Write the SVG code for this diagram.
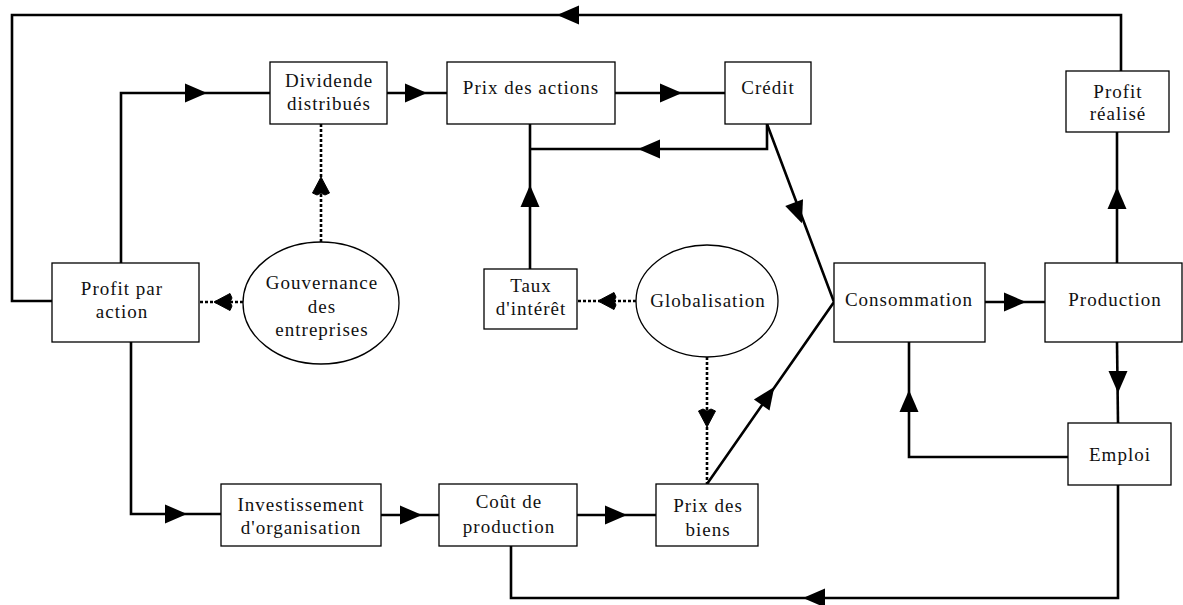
<svg xmlns="http://www.w3.org/2000/svg" xmlns:xlink="http://www.w3.org/1999/xlink" width="1183" height="605" viewBox="0 0 1183 605">
<style>
.box{fill:#fff;stroke:#000;stroke-width:1.3}
.t{font-family:"Liberation Serif","Times New Roman",serif;font-size:19px;letter-spacing:1px;text-anchor:middle;fill:#111}
.ln{fill:none;stroke:#000;stroke-width:2.6;stroke-linejoin:miter}
.dt{fill:none;stroke:#000;stroke-width:2.6;stroke-dasharray:3 2}
</style>
<defs>
<path id="ah" d="M11,0 L-11,-9.5 L-11,9.5 Z" fill="#000"/>
<path id="dh" d="M9,0 L-7,-8.5 L-9,-4 L-7,0 L-9,4 L-7,8.5 Z" fill="#000" stroke="#000" stroke-width="1"/>
</defs>
<rect width="1183" height="605" fill="#fff"/>
<g id="connectors">
<polyline class="ln" points="1121,71 1121,15 12,15 12,301 52,301"/>
<use xlink:href="#ah" transform="translate(568,15) rotate(180)"/>
<polyline class="ln" points="121,263 121,93 270,93"/>
<use xlink:href="#ah" transform="translate(196,93)"/>
<line class="ln" x1="387" y1="93" x2="447" y2="93"/>
<use xlink:href="#ah" transform="translate(416,93)"/>
<line class="ln" x1="615" y1="93" x2="725" y2="93"/>
<use xlink:href="#ah" transform="translate(671,93)"/>
<polyline class="ln" points="767,124 767,149 530,149"/>
<use xlink:href="#ah" transform="translate(649,149) rotate(180)"/>
<line class="ln" x1="530" y1="124" x2="530" y2="269"/>
<use xlink:href="#ah" transform="translate(530,196) rotate(-90)"/>
<polyline class="ln" points="767,124 834,302 707,484"/>
<use xlink:href="#ah" transform="translate(798,213) rotate(69.4)"/>
<use xlink:href="#ah" transform="translate(768,396) rotate(-55.1)"/>
<line class="ln" x1="1117" y1="263" x2="1117" y2="132"/>
<use xlink:href="#ah" transform="translate(1117,198) rotate(-90)"/>
<line class="ln" x1="985" y1="302" x2="1045" y2="302"/>
<use xlink:href="#ah" transform="translate(1015,302)"/>
<line class="ln" x1="1117" y1="342" x2="1118" y2="423"/>
<use xlink:href="#ah" transform="translate(1118,382) rotate(90)"/>
<polyline class="ln" points="1068,457 909,457 909,342"/>
<use xlink:href="#ah" transform="translate(909,401) rotate(-90)"/>
<polyline class="ln" points="511,546 511,598 1118,598 1118,485"/>
<use xlink:href="#ah" transform="translate(814,598) rotate(180)"/>
<polyline class="ln" points="131,342 131,514 221,514"/>
<use xlink:href="#ah" transform="translate(176,514)"/>
<line class="ln" x1="381" y1="515" x2="439" y2="515"/>
<use xlink:href="#ah" transform="translate(411,515)"/>
<line class="ln" x1="577" y1="515" x2="656" y2="515"/>
<use xlink:href="#ah" transform="translate(616,515)"/>
<line class="dt" x1="321" y1="242" x2="321" y2="124"/>
<use xlink:href="#dh" transform="translate(321,186) rotate(-90)"/>
<line class="dt" x1="243" y1="302" x2="199" y2="302"/>
<use xlink:href="#dh" transform="translate(223,302) rotate(180)"/>
<line class="dt" x1="636" y1="301" x2="577" y2="301"/>
<use xlink:href="#dh" transform="translate(607,301) rotate(180)"/>
<line class="dt" x1="707" y1="357" x2="707" y2="484"/>
<use xlink:href="#dh" transform="translate(707,418) rotate(90)"/>
</g>
<g id="dividende"><rect class="box" x="270" y="62" width="117" height="62"/><text class="t" x="329" y="87">Dividende</text><text class="t" x="329" y="110">distribués</text></g>
<g id="prix-actions"><rect class="box" x="447" y="62" width="168" height="62"/><text class="t" x="531" y="94">Prix des actions</text></g>
<g id="credit"><rect class="box" x="725" y="62" width="86" height="62"/><text class="t" x="768" y="94">Crédit</text></g>
<g id="profit-realise"><rect class="box" x="1066" y="71" width="103" height="61"/><text class="t" x="1118" y="98">Profit</text><text class="t" x="1118" y="120">réalisé</text></g>
<g id="consommation"><rect class="box" x="834" y="263" width="151" height="79"/><text class="t" x="909" y="306">Consommation</text></g>
<g id="production"><rect class="box" x="1045" y="263" width="137" height="79"/><text class="t" x="1115" y="306">Production</text></g>
<g id="emploi"><rect class="box" x="1068" y="423" width="103" height="62"/><text class="t" x="1120" y="461">Emploi</text></g>
<g id="profit-action"><rect class="box" x="52" y="263" width="147" height="79"/><text class="t" x="122" y="295">Profit par</text><text class="t" x="122" y="318">action</text></g>
<g id="gouvernance"><ellipse class="box" cx="321" cy="303" rx="78" ry="61"/><text class="t" x="322" y="289">Gouvernance</text><text class="t" x="322" y="313">des</text><text class="t" x="322" y="336">entreprises</text></g>
<g id="taux"><rect class="box" x="484" y="269" width="93" height="60"/><text class="t" x="531" y="292">Taux</text><text class="t" x="531" y="315">d'intérêt</text></g>
<g id="globalisation"><ellipse class="box" cx="707" cy="301" rx="71" ry="56"/><text class="t" x="708" y="307">Globalisation</text></g>
<g id="investissement"><rect class="box" x="221" y="484" width="160" height="62"/><text class="t" x="301" y="511">Investissement</text><text class="t" x="301" y="534">d'organisation</text></g>
<g id="cout"><rect class="box" x="439" y="484" width="138" height="62"/><text class="t" x="509" y="508">Coût de</text><text class="t" x="509" y="533">production</text></g>
<g id="prix-biens"><rect class="box" x="656" y="484" width="102" height="62"/><text class="t" x="708" y="512">Prix des</text><text class="t" x="708" y="536">biens</text></g>
</svg>
